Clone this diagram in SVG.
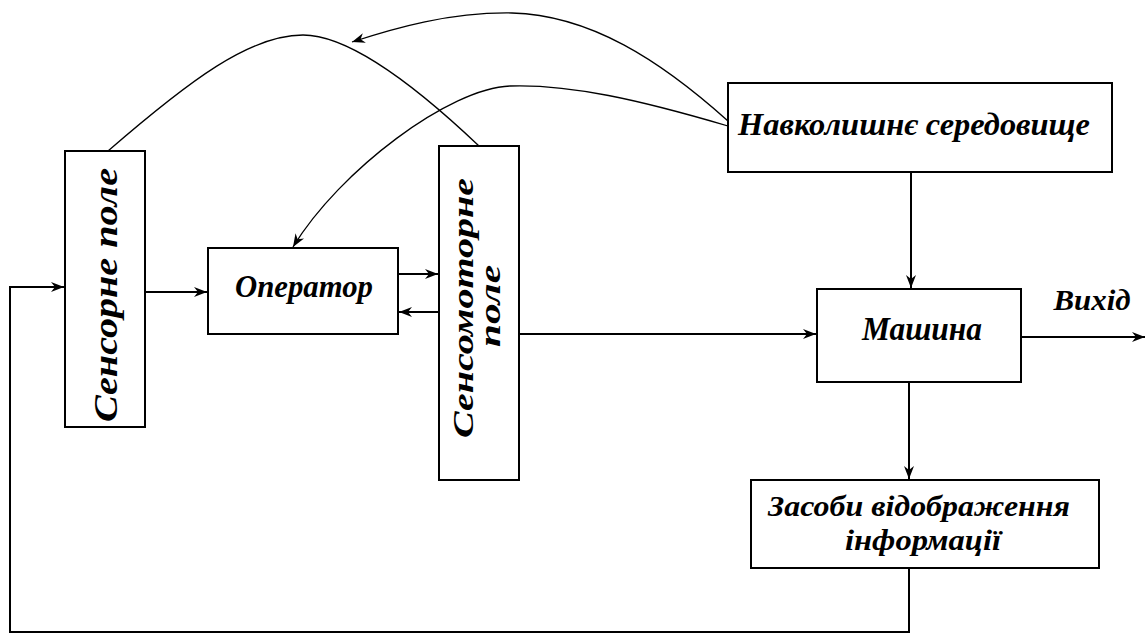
<svg xmlns="http://www.w3.org/2000/svg" width="1146" height="633" viewBox="0 0 1146 633">
<style>
.box{fill:#fff;stroke:#000;stroke-width:2}
.ln{fill:none;stroke:#000;stroke-width:2}
.cv{fill:none;stroke:#000;stroke-width:1.3}
.t{font-family:"Liberation Serif","Times New Roman",serif;font-style:italic;font-weight:bold;fill:#000;text-anchor:middle}
</style>
<defs>
<marker id="ah" markerUnits="userSpaceOnUse" markerWidth="16" markerHeight="12" viewBox="0 -6 14 12" refX="13" refY="0" orient="auto">
<path d="M0,-5 L13,0 L0,5 L4,0 z" fill="#000"/>
</marker>
</defs>
<rect width="1146" height="633" fill="#fff"/>
<g id="connectors">
<path class="ln" d="M145,292 H207" marker-end="url(#ah)"/>
<path class="ln" d="M398,274 H438" marker-end="url(#ah)"/>
<path class="ln" d="M439,312 H399" marker-end="url(#ah)"/>
<path class="ln" d="M519,334 H816" marker-end="url(#ah)"/>
<path class="ln" d="M911,172 V288" marker-end="url(#ah)"/>
<path class="ln" d="M1021,337 H1145" marker-end="url(#ah)"/>
<path class="ln" d="M909,382 V479" marker-end="url(#ah)"/>
<path class="ln" d="M909,568 V632 H10 V287 H64" marker-end="url(#ah)"/>
<path class="cv" d="M108,151 C190,80 250,35 303,35 C350,35 420,90 479,146"/>
<path class="cv" d="M728,121 C660,60 590,15 512,13 C450,12 395,28 352,42" marker-end="url(#ah)"/>
<path class="cv" d="M728,126 C640,100 570,84 510,86 C450,88 340,170 293,247" marker-end="url(#ah)"/>
</g>
<g id="sensor-field">
<rect class="box" x="65" y="151" width="80" height="276"/>
<text class="t" font-size="33" transform="translate(117,295) rotate(-90)" textLength="254" lengthAdjust="spacingAndGlyphs">Сенсорне поле</text>
</g>
<g id="operator">
<rect class="box" x="208" y="248" width="190" height="86"/>
<text class="t" x="304" y="297" font-size="32" textLength="138" lengthAdjust="spacingAndGlyphs">Оператор</text>
</g>
<g id="sensomotor-field">
<rect class="box" x="439" y="146" width="80" height="334"/>
<text class="t" font-size="29" transform="rotate(-90)"><tspan x="-308" y="473" textLength="260" lengthAdjust="spacingAndGlyphs">Сенсомоторне</tspan><tspan x="-306" y="500" textLength="82" lengthAdjust="spacingAndGlyphs">поле</tspan></text>
</g>
<g id="environment">
<rect class="box" x="728" y="83" width="384" height="89"/>
<text class="t" x="914" y="135" font-size="31" textLength="352" lengthAdjust="spacingAndGlyphs">Навколишнє середовище</text>
</g>
<g id="machine">
<rect class="box" x="817" y="289" width="204" height="93"/>
<text class="t" x="922" y="340" font-size="33" textLength="120" lengthAdjust="spacingAndGlyphs">Машина</text>
</g>
<g id="output-label">
<text class="t" x="1092" y="310" font-size="29" textLength="77" lengthAdjust="spacingAndGlyphs">Вихід</text>
</g>
<g id="display">
<rect class="box" x="751" y="480" width="348" height="88"/>
<text class="t" font-size="29"><tspan x="919" y="516" textLength="302" lengthAdjust="spacingAndGlyphs">Засоби відображення</tspan><tspan x="923" y="550" textLength="156" lengthAdjust="spacingAndGlyphs">інформації</tspan></text>
</g>
</svg>
